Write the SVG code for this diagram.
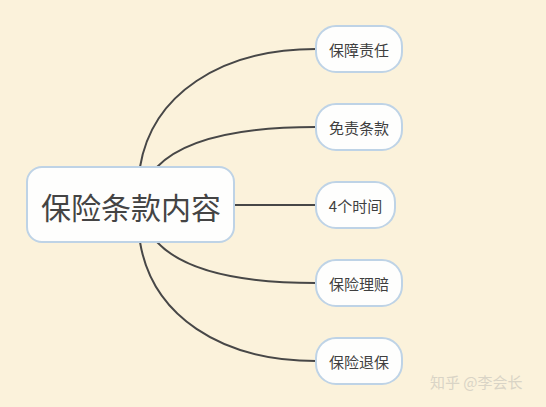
<svg xmlns="http://www.w3.org/2000/svg" width="546" height="407" viewBox="0 0 546 407">
<style>
.bg{fill:#FBF2DB}
.node rect{fill:#FEFEFD;stroke:#BED3E6;stroke-width:2}
.t{font-family:"Noto Sans CJK SC","Liberation Sans",sans-serif;fill:#3F3F3F;text-anchor:middle;dominant-baseline:central}
.sub{font-size:15px}
.main{font-size:30px;fill:#444}
.conn path{fill:none;stroke:#474747;stroke-width:2}
.wm{font-family:"Noto Sans CJK SC","Liberation Sans",sans-serif;font-size:15px;fill:#D9D4C6}
</style>
<rect class="bg" x="0" y="0" width="546" height="407"/>
<g id="connectors" class="conn">
<path d="M140,167 C152,95 220,49 316,49"/>
<path d="M157,167 C185,138 245,127 316,127"/>
<path d="M234,205 L316,205"/>
<path d="M157,242 C185,272 245,283 316,283"/>
<path d="M140,242 C152,315 220,361 316,361"/>
</g>
<g id="main" class="node">
<rect x="27" y="167" width="207" height="75" rx="15"/>
<text class="t main" x="131" y="206">保险条款内容</text>
</g>
<g id="n1" class="node">
<rect x="316" y="26" width="86" height="46" rx="20"/>
<text class="t sub" x="359" y="49">保障责任</text>
</g>
<g id="n2" class="node">
<rect x="316" y="104" width="86" height="46" rx="20"/>
<text class="t sub" x="359" y="127">免责条款</text>
</g>
<g id="n3" class="node">
<rect x="316" y="182" width="79" height="46" rx="20"/>
<text class="t sub" x="355.500" y="205">4个时间</text>
</g>
<g id="n4" class="node">
<rect x="316" y="260" width="86" height="46" rx="20"/>
<text class="t sub" x="359" y="283">保险理赔</text>
</g>
<g id="n5" class="node">
<rect x="316" y="338" width="86" height="46" rx="20"/>
<text class="t sub" x="359" y="361">保险退保</text>
</g>
<text class="wm" x="430" y="388">知乎 @李会长</text>
</svg>
